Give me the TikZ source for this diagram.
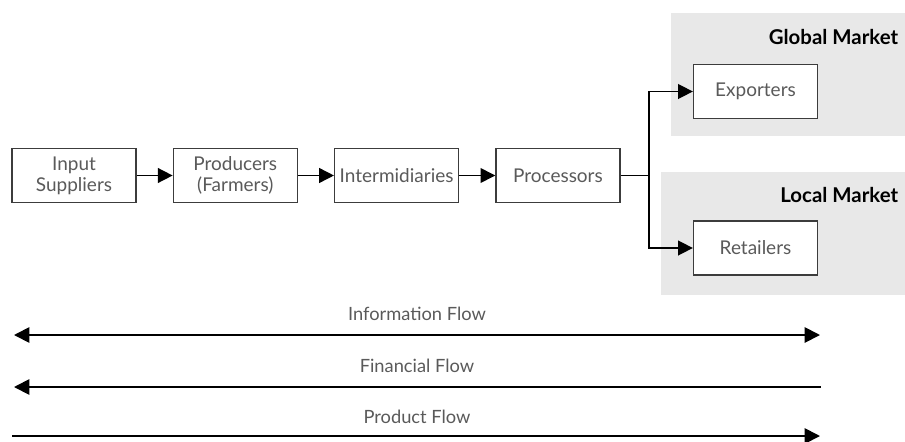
\documentclass[tikz,border=0pt]{standalone}
\usepackage{fontspec}
\setmainfont{Lato}
\usetikzlibrary{arrows.meta,positioning}

\definecolor{txtgray}{HTML}{5A5A5A}
\definecolor{boxline}{HTML}{3C3C3C}
\definecolor{marketbg}{HTML}{E8E8E8}

\tikzset{
  stage/.style={draw=boxline, line width=0.9pt, fill=white, minimum width=3.1cm,
    minimum height=1.35cm, align=center, text=txtgray, inner sep=1pt,
    font=\fontsize{13.5}{15}\selectfont},
  link/.style={line width=1.1pt, -{Triangle[length=10.5pt,width=10.5pt]}},
  flowline/.style={line width=1.3pt},
  flowhead/.tip={Triangle[length=11pt,width=11pt]},
  flowlabel/.style={text=txtgray, font=\fontsize{13}{15}\selectfont},
  marketlabel/.style={anchor=east, font=\fontsize{14.5}{16}\selectfont\bfseries}
}

\begin{document}
\begin{tikzpicture}[x=0.025cm, y=-0.025cm]
  \useasboundingbox (0,0) rectangle (905,441);

  % market areas
  \fill[marketbg] (671,13) rectangle (905,136);
  \fill[marketbg] (661,172) rectangle (905,295);
  \node[marketlabel] (glob) at (903,37) {Global Market};
  \node[marketlabel] (loc) at (903,195) {Local Market};

  % chain
  \node[stage] (supp) at (74,175.5) {Input\\Suppliers};
  \node[stage, right=0.9cm of supp] (prod) {Producers\\(Farmers)};
  \node[stage, right=0.9cm of prod] (inter) {Intermidiaries};
  \node[stage, right=0.9cm of inter] (proc) {Processors};
  \node[stage] (exp) at (755.5,91.5) {Exporters};
  \node[stage] (ret) at (755.5,248) {Retailers};

  \draw[link] (supp) -- (prod);
  \draw[link] (prod) -- (inter);
  \draw[link] (inter) -- (proc);
  \draw[line width=1.1pt] (proc.east) -- (649,175.5) coordinate (fork);
  \draw[link] (fork) |- (exp.west);
  \draw[link] (fork) |- (ret.west);

  % flows
  \coordinate (infoL) at (14,335);
  \coordinate (infoR) at (820,335);
  \coordinate (finL) at (14,387);
  \coordinate (finR) at (821,387);
  \coordinate (prodL) at (12,436);
  \coordinate (prodR) at (820,436);

  \node[flowlabel] (info) at (417,314) {Information Flow};
  \node[flowlabel] (fin) at (417,366) {Financial Flow};
  \node[flowlabel] (prd) at (417,417) {Product Flow};

  \draw[flowline, flowhead-flowhead] (infoL) -- (infoR);
  \draw[flowline, flowhead-] (finL) -- (finR);
  \draw[flowline, -flowhead] (prodL) -- (prodR);
\end{tikzpicture}
\end{document}
